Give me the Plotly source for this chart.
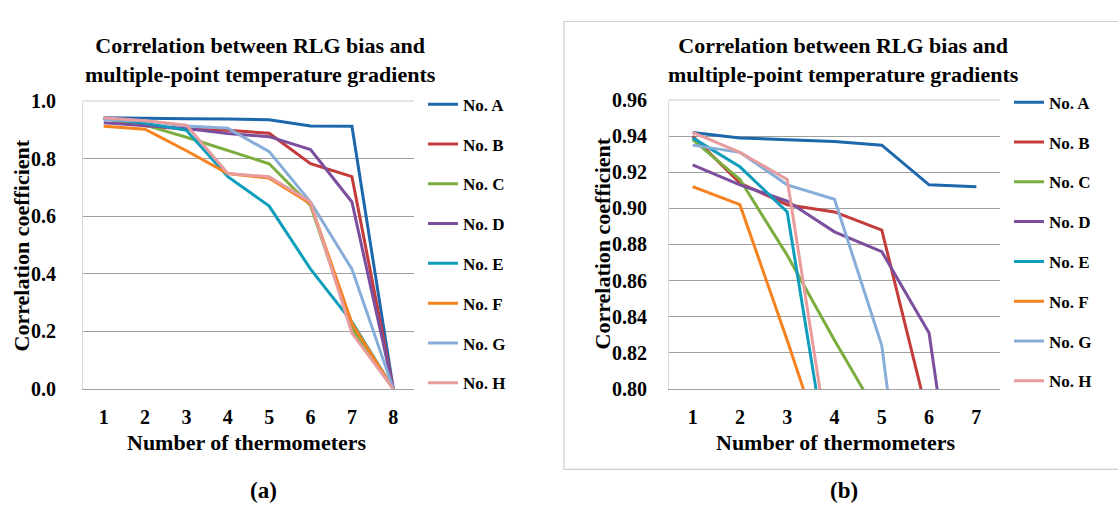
import plotly.graph_objects as go

W, H = 1118, 509

# ---------------- data ----------------
x_a = [1, 2, 3, 4, 5, 6, 7, 8]
x_b = [1, 2, 3, 4, 5, 6, 7]
names = ["No. A", "No. B", "No. C", "No. D", "No. E", "No. F", "No. G", "No. H"]

no_A = [0.942, 0.939, 0.938, 0.937, 0.935, 0.913, 0.912, 0.0]
no_B = [0.940, 0.914, 0.902, 0.898, 0.888, 0.782, 0.737, 0.0]
no_C = [0.938, 0.916, 0.874, 0.827, 0.782, 0.637, 0.210, 0.0]
no_D = [0.924, 0.913, 0.904, 0.887, 0.876, 0.831, 0.649, 0.0]
no_E = [0.939, 0.923, 0.898, 0.737, 0.635, 0.416, 0.233, 0.0]
no_F = [0.912, 0.902, 0.827, 0.748, 0.732, 0.643, 0.228, 0.0]
no_G = [0.935, 0.931, 0.913, 0.905, 0.824, 0.649, 0.416, 0.0]
no_H = [0.942, 0.931, 0.916, 0.748, 0.737, 0.649, 0.194, 0.0]
series = [no_A, no_B, no_C, no_D, no_E, no_F, no_G, no_H]

yticks_a = [0.0, 0.2, 0.4, 0.6, 0.8, 1.0]
yticks_b = [0.80, 0.82, 0.84, 0.86, 0.88, 0.90, 0.92, 0.94, 0.96]

colors = ["#1D68AC", "#C43B3C", "#7CAE3F", "#7B4F9D",
          "#0E9EBB", "#F5821F", "#87ADD8", "#E89C9E"]

FONT = "Liberation Serif, Tinos, Times New Roman, DejaVu Serif, serif"


def px(x):
    return x / W


def py(y):
    return 1 - y / H


fig = go.Figure()

for nm, col, vals in zip(names, colors, series):
    fig.add_trace(go.Scatter(
        x=x_a, y=vals, mode="lines", name=nm,
        line=dict(color=col, width=3),
        xaxis="x", yaxis="y", legend="legend", legendgroup="a" + nm,
    ))

for nm, col, vals in zip(names, colors, series):
    fig.add_trace(go.Scatter(
        x=x_b, y=vals[:len(x_b)], mode="lines", name=nm,
        line=dict(color=col, width=3),
        xaxis="x2", yaxis="y2", legend="legend2", legendgroup="b" + nm,
    ))

tickfont = dict(family=FONT, size=20, color="black", weight="bold")
grid = "#A0A0A0"

common_x = dict(showgrid=False, zeroline=False, showline=True, linecolor=grid,
                linewidth=1, ticks="", tickfont=tickfont, ticklabelstandoff=10,
                fixedrange=True)
common_y = dict(showgrid=True, gridcolor=grid, gridwidth=1, zeroline=False,
                showline=True, linecolor="#DADADA", linewidth=1, ticks="",
                tickfont=tickfont, fixedrange=True)

legend_common = dict(
    xanchor="left", yanchor="top",
    font=dict(family=FONT, size=17, color="black", weight="bold"),
    tracegroupgap=14.7, traceorder="grouped",
    bgcolor="rgba(0,0,0,0)", borderwidth=0, itemwidth=30,
)

title_font = dict(family=FONT, size=22, color="black", weight="bold")

fig.update_layout(
    width=W, height=H,
    margin=dict(l=0, r=0, t=0, b=0),
    paper_bgcolor="white", plot_bgcolor="white",
    font=dict(family=FONT),
    xaxis=dict(domain=[px(83), px(414)], range=[0.5, 8.5], tickvals=x_a,
               anchor="y", **common_x),
    yaxis=dict(domain=[py(395), py(94)], range=[0, 1], tickvals=yticks_a,
               tickformat=".1f", anchor="x", ticklabelstandoff=22, **common_y),
    xaxis2=dict(domain=[px(669), px(1000)], range=[0.5, 7.5], tickvals=x_b,
                anchor="y2", **common_x),
    yaxis2=dict(domain=[py(395), py(93)], range=[0.80, 0.96], tickvals=yticks_b,
                tickformat=".2f", anchor="x2", ticklabelstandoff=17, **common_y),
    legend=dict(x=px(423), y=py(79), **legend_common),
    legend2=dict(x=px(1009), y=py(77), **legend_common),
    showlegend=True,
)

shapes = [
    # light top border of each plot area
    dict(type="line", xref="x domain", yref="y domain", x0=0, x1=1, y0=1, y1=1,
         line=dict(color="#DDDDDD", width=1.5), layer="above"),
    dict(type="line", xref="x2 domain", yref="y2 domain", x0=0, x1=1, y0=1, y1=1,
         line=dict(color="#DDDDDD", width=1.5), layer="above"),
    # frame around panel (b)
    dict(type="rect", xref="paper", yref="paper", x0=px(564), x1=px(1130),
         y0=py(479), y1=py(11), line=dict(color="#CFCFCF", width=1.2),
         fillcolor="rgba(0,0,0,0)", layer="below"),
]
fig.update_layout(shapes=shapes)

ann = []
for cx in (260, 844):
    ann.append(dict(text="Correlation between RLG bias and<br>multiple-point temperature gradients",
                    x=px(cx), y=py(51), xref="paper", yref="paper",
                    xanchor="center", yanchor="middle", showarrow=False,
                    font=title_font, align="center"))
for cx, cy in ((21, 245), (602, 243)):
    ann.append(dict(text="Correlation coefficient", x=px(cx), y=py(cy),
                    xref="paper", yref="paper", xanchor="center", yanchor="middle",
                    textangle=-90, showarrow=False, font=title_font))
for cx in (247, 836):
    ann.append(dict(text="Number of thermometers", x=px(cx), y=py(451),
                    xref="paper", yref="paper", xanchor="center", yanchor="middle",
                    showarrow=False, font=title_font))
for txt, cx in (("(a)", 263), ("(b)", 844)):
    ann.append(dict(text=txt, x=px(cx), y=py(501), xref="paper", yref="paper",
                    xanchor="center", yanchor="middle", showarrow=False,
                    font=dict(family=FONT, size=23, color="black", weight="bold")))
fig.update_layout(annotations=ann)

fig.write_html("out.html")
